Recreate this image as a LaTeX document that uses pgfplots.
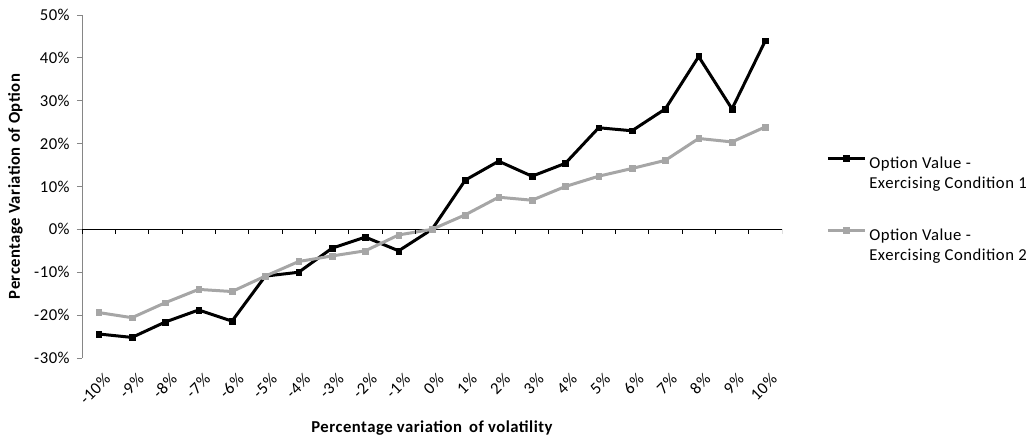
\documentclass[border=0pt]{standalone}
\usepackage{pgfplots}
\pgfplotsset{compat=1.18}
\usepackage{fontspec}
\setmainfont{Carlito}
\definecolor{sergray}{HTML}{A6A6A6}
\definecolor{axgray}{HTML}{868686}
\newcommand{\chartfont}{\fontsize{12.5}{15}\selectfont\addfontfeatures{LetterSpace=3}}

\begin{document}
\begin{tikzpicture}
\begin{axis}[
    scale only axis,
    width=525pt, height=257.25pt,
    xmin=-0.5, xmax=20.5,
    ymin=-30, ymax=50,
    ytick={-30,-20,...,50},
    yticklabel={\pgfmathprintnumber{\tick}\%},
    /pgf/number format/assume math mode=true,
    axis x line*=bottom, axis y line*=left,
    x axis line style={draw=none},
    y axis line style={axgray, line width=0.6pt},
    xtick={0,...,20},
    xticklabels={-10\%,-9\%,-8\%,-7\%,-6\%,-5\%,-4\%,-3\%,-2\%,-1\%,0\%,1\%,2\%,3\%,4\%,5\%,6\%,7\%,8\%,9\%,10\%},
    major x tick style={draw=none},
    tick align=outside,
    major tick length=3.75pt,
    major y tick style={axgray, line width=0.6pt},
    tick label style={font=\chartfont, black},
    yticklabel style={xshift=-2pt},
    xticklabel style={rotate=45, anchor=north east, yshift=-4pt, xshift=1pt},
    extra y ticks={0},
    extra y tick labels={},
    extra y tick style={grid=major, major grid style={black, line width=0.6pt}},
    every axis y label/.style={at={(axis description cs:0,0.5)}, xshift=-50pt, rotate=90, anchor=center},
    every axis x label/.style={at={(axis description cs:0.5,0)}, yshift=-52.5pt, anchor=center},
    label style={font=\chartfont\bfseries},
    xlabel={Percentage variation\, of volatility},
    ylabel={Percentage Variation of Option},
    legend style={draw=none, fill=none, inner sep=0pt,
        at={(axis description cs:1.063,0.601)}, anchor=north west,
        font=\chartfont, row sep=38pt, column sep=0pt},
    legend cell align=left,
    legend image code/.code={
        \draw[mark repeat=2, mark phase=2] plot coordinates {(0pt,3.5pt) (14pt,3.5pt) (28pt,3.5pt)};
    },
]
\addplot[black, line width=2.25pt, mark=square*, mark size=2.2pt, mark options={solid, line width=0.3pt}]
coordinates {
(0,-24.4) (1,-25.2) (2,-21.6) (3,-18.8) (4,-21.4) (5,-10.9) (6,-10.0)
(7,-4.4) (8,-1.8) (9,-5.0) (10,0.0) (11,11.5) (12,15.9) (13,12.4)
(14,15.4) (15,23.7) (16,23.0) (17,28.1) (18,40.3) (19,28.1) (20,44.0)
};
\addlegendentry{\begin{tabular}[t]{@{}l@{}}Option Value -\\Exercising Condition 1\end{tabular}}
\addplot[sergray, line width=2.25pt, mark=square*, mark size=2.2pt, mark options={solid, line width=0.3pt}]
coordinates {
(0,-19.4) (1,-20.6) (2,-17.1) (3,-14.0) (4,-14.5) (5,-10.9) (6,-7.5)
(7,-6.2) (8,-5.0) (9,-1.3) (10,0.0) (11,3.4) (12,7.5) (13,6.8)
(14,10.0) (15,12.4) (16,14.2) (17,16.1) (18,21.2) (19,20.4) (20,23.9)
};
\addlegendentry{\begin{tabular}[t]{@{}l@{}}Option Value -\\Exercising Condition 2\end{tabular}}
\pgfplotsinvokeforeach{-0.5,0.5,...,20.5}{
    \draw[black, line width=0.6pt] (axis cs:#1,0) -- ++(0pt,-3.75pt);
}
\end{axis}
\pgfresetboundingbox
\useasboundingbox (-61.5pt,-60pt) rectangle (710.25pt,268.5pt);
\end{tikzpicture}
\end{document}
